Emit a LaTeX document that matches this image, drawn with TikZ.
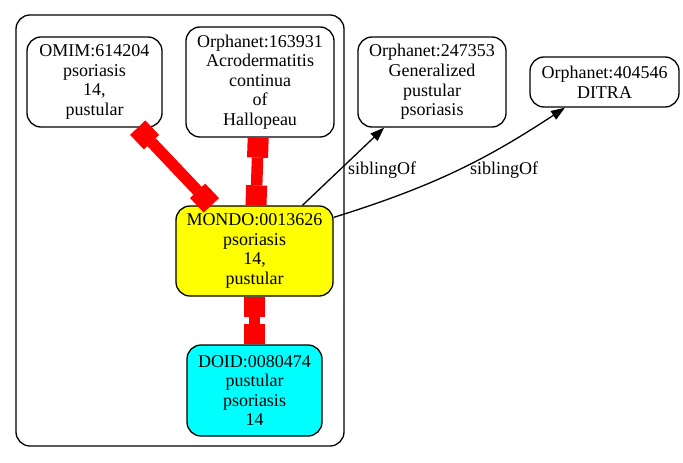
\documentclass[tikz,border=0pt]{standalone}
\usepackage{fontspec}
\setmainfont{Liberation Serif}
\usetikzlibrary{arrows.meta}
\definecolor{gvyellow}{RGB}{255,255,0}
\definecolor{gvcyan}{RGB}{0,255,255}
\definecolor{gvred}{RGB}{255,0,0}
\begin{document}
\begin{tikzpicture}[x=1pt,y=-1pt,
  every node/.style={font=\fontsize{18}{19.6}\selectfont},
  box/.style={draw, line width=1.3pt, rounded corners=14pt, align=center, inner sep=0pt},
  cluster/.style={draw, line width=1.3pt, rounded corners=14pt, inner sep=0pt},
  rededge/.style={draw=gvred, line width=11.5pt,
    arrows={Rectangle[length=20pt,width=21pt,line width=0pt]-Rectangle[length=20pt,width=21pt,line width=0pt]}},
  sib/.style={draw, line width=1.3pt, -{Triangle[length=14pt,width=10pt]}},
  lbl/.style={inner sep=0pt}]
\useasboundingbox (0,0) rectangle (683,463);
\node[cluster, minimum width=328pt, minimum height=431pt] (cl) at (180,230.5) {};
\node[box, minimum width=135pt, minimum height=90pt] (omim) at (94.5,82) {OMIM:614204\\psoriasis\\14,\\pustular};
\node[box, minimum width=148pt, minimum height=110pt] (o163931) at (260,82) {Orphanet:163931\\Acrodermatitis\\continua\\of\\Hallopeau};
\node[box, minimum width=148pt, minimum height=90pt] (o247353) at (432,82) {Orphanet:247353\\Generalized\\pustular\\psoriasis};
\node[box, minimum width=149pt, minimum height=50pt] (o404546) at (604.5,82) {Orphanet:404546\\DITRA};
\node[box, fill=gvyellow, minimum width=157pt, minimum height=90pt] (mondo) at (254.5,251) {MONDO:0013626\\psoriasis\\14,\\pustular};
\node[box, fill=gvcyan, minimum width=135pt, minimum height=91pt] (doid) at (254.5,390.5) {DOID:0080474\\pustular\\psoriasis\\14};
\draw[rededge] (omim) -- (mondo);
\draw[rededge] (o163931) -- (mondo);
\draw[rededge] (mondo) -- (doid);
\draw[sib] (mondo) -- (o247353);
\draw[sib] (mondo.23) to[bend right=8] (o404546.213);
\node[lbl] (l1) at (382,170) {siblingOf};
\node[lbl] (l2) at (504,170) {siblingOf};
\end{tikzpicture}
\end{document}
